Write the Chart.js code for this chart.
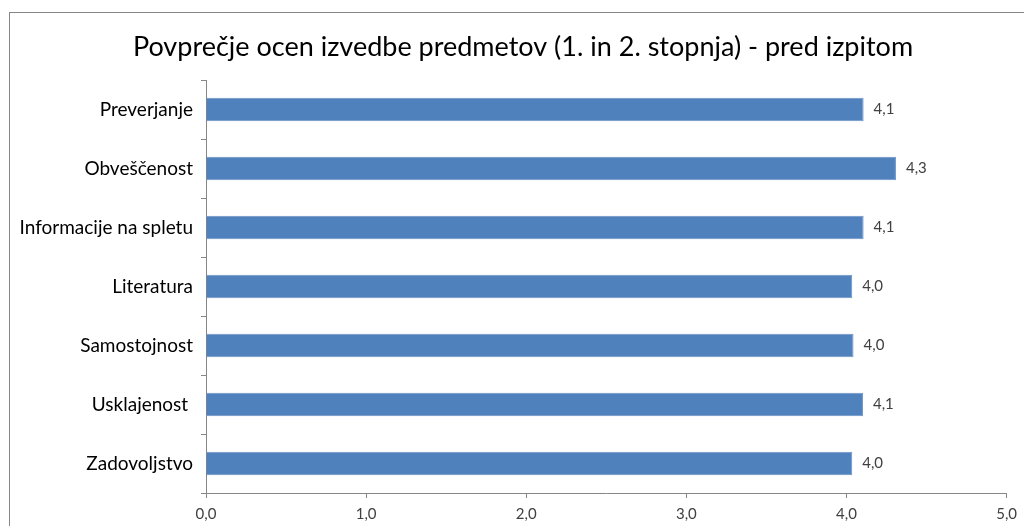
<!DOCTYPE html>
<html>
<head>
<meta charset="utf-8">
<script src="https://cdn.jsdelivr.net/npm/chart.js@4"></script>
<style>
  html, body { margin: 0; padding: 0; background: #fff; }
  #wrap { width: 1024px; height: 526px; position: relative; }
</style>
</head>
<body>
<div id="wrap"><canvas id="c" width="1024" height="526"></canvas></div>
<script>
const titleText = 'Povprečje ocen izvedbe predmetov (1. in 2. stopnja) - pred izpitom';
const categories = ['Preverjanje', 'Obveščenost', 'Informacije na spletu', 'Literatura', 'Samostojnost', 'Usklajenost ', 'Zadovoljstvo'];
const values = [4.107, 4.309, 4.107, 4.036, 4.044, 4.103, 4.036];
const xTicks = [0, 1, 2, 3, 4, 5];

const fmt = v => Number(v).toFixed(1).replace('.', ',');
const FONT = "Lato, 'Liberation Sans', Arial, sans-serif";

const framePlugin = {
  id: 'frame',
  beforeDraw(chart) {
    const ctx = chart.ctx;
    ctx.save();
    ctx.strokeStyle = '#868686';
    ctx.lineWidth = 1;
    ctx.strokeRect(9.5, 12.5, 1200, 800);
    ctx.restore();
  }
};

// Chart title, centred over the frame as in the reference
const titlePlugin = {
  id: 'frameTitle',
  afterDraw(chart) {
    const ctx = chart.ctx;
    ctx.save();
    ctx.font = '27px ' + FONT;
    ctx.fillStyle = '#000';
    ctx.textAlign = 'center';
    ctx.textBaseline = 'middle';
    ctx.fillText(titleText, 523, 47);
    ctx.restore();
  }
};

const valueLabels = {
  id: 'valueLabels',
  afterDatasetsDraw(chart) {
    const ctx = chart.ctx;
    const meta = chart.getDatasetMeta(0);
    ctx.save();
    ctx.font = '15px ' + FONT;
    ctx.fillStyle = '#404040';
    ctx.textAlign = 'left';
    ctx.textBaseline = 'middle';
    meta.data.forEach((bar, i) => {
      ctx.fillText(fmt(chart.data.datasets[0].data[i]), bar.x + 10, bar.y);
    });
    ctx.restore();
  }
};

new Chart(document.getElementById('c'), {
  type: 'bar',
  data: {
    labels: categories,
    datasets: [{
      data: values,
      backgroundColor: '#4F81BD',
      borderColor: '#6A93C8',
      borderWidth: 1,
      borderSkipped: 'start',
      categoryPercentage: 0.4,
      barPercentage: 1.0
    }]
  },
  options: {
    indexAxis: 'y',
    responsive: false,
    animation: false,
    devicePixelRatio: 1,
    layout: { padding: { left: 0, right: 17, top: 80, bottom: 0 } },
    plugins: {
      legend: { display: false },
      tooltip: { enabled: false },
      title: { display: false }
    },
    scales: {
      x: {
        min: 0,
        max: 5,
        afterBuildTicks(scale) { scale.ticks = xTicks.map(v => ({ value: v })); },
        afterFit(scale) { scale.height = 33; },
        border: { display: true, color: '#868686', width: 1 },
        grid: { drawOnChartArea: false, drawTicks: true, tickLength: 5, color: '#868686' },
        ticks: {
          color: '#404040',
          font: { family: FONT, size: 15 },
          padding: 7,
          callback: v => fmt(v)
        }
      },
      y: {
        afterFit(scale) { scale.width = 206; },
        border: { display: true, color: '#868686', width: 1 },
        grid: { drawOnChartArea: false, drawTicks: true, tickLength: 5, color: '#868686', offset: true },
        ticks: {
          color: '#000',
          font: { family: FONT, size: 19 },
          padding: 8
        }
      }
    }
  },
  plugins: [framePlugin, valueLabels, titlePlugin]
});
</script>
</body>
</html>
